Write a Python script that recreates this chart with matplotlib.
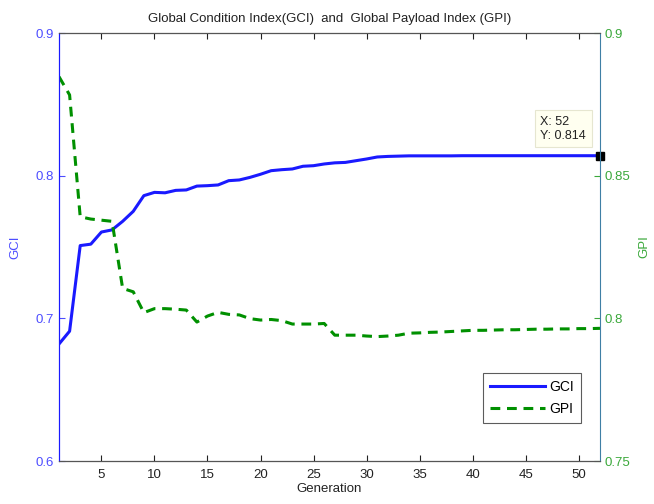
import numpy as np
import matplotlib
matplotlib.use('Agg')
import matplotlib.pyplot as plt

plt.rcParams['font.family'] = ['Liberation Sans', 'DejaVu Sans']

generation = np.arange(1, 53)
gci = [0.682, 0.691, 0.751, 0.752, 0.7605, 0.762, 0.768, 0.775, 0.786, 0.7883,
       0.788, 0.7897, 0.790, 0.7927, 0.793, 0.7935, 0.7965, 0.797, 0.7988, 0.801,
       0.8035, 0.8042, 0.8047, 0.8066, 0.807, 0.8082, 0.809, 0.8093, 0.8105, 0.8117,
       0.8131, 0.8135, 0.8137, 0.8139, 0.8139, 0.8139, 0.8139, 0.8139, 0.814, 0.814,
       0.814, 0.814, 0.814, 0.814, 0.814, 0.814, 0.814, 0.814, 0.814, 0.814,
       0.814, 0.814]
gpi = [0.8847, 0.8783, 0.8356, 0.8348, 0.8344, 0.834, 0.8105, 0.8093, 0.802, 0.8034,
       0.8034, 0.8032, 0.8029, 0.7987, 0.8008, 0.8021, 0.8014, 0.8012, 0.7999, 0.7994,
       0.7996, 0.7992, 0.798, 0.798, 0.798, 0.7982, 0.7941, 0.7941, 0.7941, 0.7938,
       0.7936, 0.7938, 0.7941, 0.7948, 0.7949, 0.7951, 0.7952, 0.7954, 0.7956, 0.7958,
       0.7958, 0.7959, 0.796, 0.796, 0.7961, 0.7962, 0.7962, 0.7963, 0.7963, 0.7964,
       0.7964, 0.7965]

blue = '#1a1aff'
green = '#009000'
tick_blue = '#4d4dff'
tick_green = '#3aa83a'

fig = plt.figure(figsize=(6.54, 5.04), dpi=100)
ax = fig.add_axes([0.0902, 0.0853, 0.8272, 0.8492])
ax2 = ax.twinx()

l1, = ax.plot(generation, gci, color=blue, lw=2.2, label='GCI')
l2, = ax2.plot(generation, gpi, color=green, lw=2.2, ls=(0, (3.2, 2.2)), label='GPI')

ax.set_xlim(1, 52)
ax.set_ylim(0.6, 0.9)
ax2.set_ylim(0.75, 0.9)
ax.set_xticks(range(5, 51, 5))
ax.set_yticks([0.6, 0.7, 0.8, 0.9])
ax2.set_yticks([0.75, 0.8, 0.85, 0.9])
ax.set_yticklabels(['0.6', '0.7', '0.8', '0.9'])
ax2.set_yticklabels(['0.75', '0.8', '0.85', '0.9'])

ax.tick_params(axis='x', direction='in', length=4, top=True, labelsize=9.5, colors='#222222', pad=6)
ax.tick_params(axis='y', direction='in', length=4, labelsize=9.5, colors=tick_blue, pad=4)
ax2.tick_params(axis='y', direction='in', length=4, labelsize=9.5, colors=tick_green, pad=3)

for s in ['top', 'bottom']:
    ax2.spines[s].set_color('#555555')
ax2.spines['left'].set_color(blue)
ax2.spines['right'].set_color('#3f7fa5')
ax.spines['left'].set_color(blue)
ax.spines['right'].set_visible(False)

ax.set_xlabel('Generation', fontsize=9.5, color='#222222', labelpad=1)
ax.set_ylabel('GCI', fontsize=9.5, color=tick_blue, labelpad=10)
ax2.set_ylabel('GPI', fontsize=9.5, color=tick_green, labelpad=6)
ax.set_title('Global Condition Index(GCI)  and  Global Payload Index (GPI)', fontsize=9.5, color='#222222', pad=8)

leg = ax2.legend([l1, l2], ['GCI', 'GPI'], loc='lower right', bbox_to_anchor=(0.978, 0.072),
                 fontsize=10, fancybox=False, edgecolor='#333333', handlelength=4,
                 borderpad=0.5, labelspacing=0.6, handletextpad=0.3)
leg.get_frame().set_linewidth(0.8)

# data tip on the GCI line at the last point
ax.plot([generation[-1]], [gci[-1]], marker='s', color='black', ms=6, clip_on=False, zorder=5)
ax.annotate('X: %d\nY: %.3f' % (generation[-1], gci[-1]), xy=(generation[-1], gci[-1]),
            xytext=(-43, 10), textcoords='offset points', fontsize=9, color='#222222',
            va='bottom', ha='left',
            bbox=dict(boxstyle='square,pad=0.45', fc='#fffff0', ec='#e6e6d0', lw=0.8),
            linespacing=1.25)

fig.savefig('out.png', dpi=100)
